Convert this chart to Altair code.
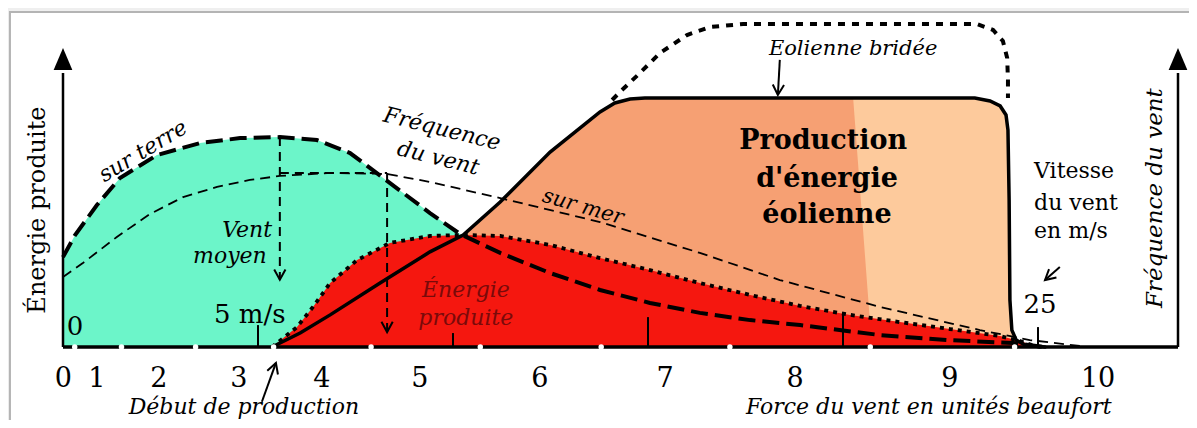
import altair as alt
import pandas as pd

# ---------------- data (x: wind speed in m/s, y: level in % of rated power) ----------------
terre_v = [0, 0.31, 0.87, 1.46, 2.41, 3.51, 4.54, 5.56, 6.51, 7.36, 8.21, 9.41, 10.18, 11.21,
           12.49, 13.77, 15.05, 16.33, 17.62, 18.90, 20.95, 22.67, 24.36, 25.18]
terre_f = [36.1, 45.0, 57.0, 67.9, 77.1, 81.9, 83.9, 84.3, 83.1, 77.9, 67.9, 53.8, 45.4, 37.8,
           29.7, 22.9, 17.7, 13.7, 10.8, 8.8, 4.8, 2.8, 1.6, 0]
mer_v = [0, 0.51, 1.38, 2.23, 3.08, 3.95, 4.79, 5.56, 6.85, 8.31, 9.41, 11.21, 13.77, 16.33,
         18.38, 20.95, 23.51, 24.79, 26.08]
mer_f = [28.1, 33.7, 44.2, 53.4, 60.2, 64.3, 67.1, 68.7, 69.9, 69.5, 66.3, 59.8, 50.2, 37.8,
         26.9, 16.1, 6.8, 2.8, 0.4]
power_v = [5.36, 6.08, 6.85, 8.13, 9.41, 10.26, 11.21, 12.49, 13.77, 14.15, 14.54, 14.92, 23.38,
           23.77, 24.03, 24.18, 24.23, 24.26, 24.28, 24.33, 24.44, 24.67, 25.18]
power_p = [0, 5.6, 12.9, 25.7, 38.2, 45.0, 58.2, 78.3, 94.4, 98.0, 99.6, 100, 100,
           98.8, 96.8, 93.2, 87.1, 59.0, 18.9, 6.8, 2.8, 0.8, 0]
bridee_v = [14.08, 14.28, 14.79, 15.31, 16.0, 16.59, 17.44, 23.44, 23.85, 24.10, 24.21, 24.23, 24.23]
bridee_p = [99.2, 102.4, 110.0, 118.1, 125.3, 128.5, 129.7, 129.7, 127.3, 122.9, 116.1, 107.2, 100]
energie_v = [5.36, 6.0, 6.41, 6.85, 7.54, 8.38, 9.41, 10.26, 11.21, 12.49, 13.77, 15.05, 16.33,
             17.62, 18.90, 20.18, 21.46, 22.74, 24.03, 24.54, 24.92, 25.1]
energie_p = [0, 8.0, 16.1, 25.7, 34.9, 41.8, 44.6, 45.0, 44.6, 41.0, 35.7, 30.9, 25.7,
             20.9, 16.5, 12.9, 10.0, 7.2, 4.4, 2.4, 0.4, 0]
split_v = [20.26, 20.74]          # edge between the two orange tones
split_p = [100, 0]

beaufort_labels = ["0", "1", "2", "3", "4", "5", "6", "7", "8", "9", "10"]
beaufort_v = [0.01, 0.87, 2.46, 4.51, 6.64, 9.15, 12.23, 15.44, 18.77, 22.74, 26.54]
beaufort_bounds = [0.3, 1.5, 3.4, 5.4, 7.9, 10.7, 13.8, 17.1, 20.7, 24.4]
ms_ticks = [5, 10, 15, 20, 25]
ms_tick_top = [8.8, 5.6, 12.0, 14.0, 8.0]

axis_v = [0, 28.59]
axis_top = 110
arrow_top = 115.7
baseline_end = 28.59

moyen_terre_v, moyen_terre_top, moyen_terre_tip = 5.56, 84.3, 27.0
moyen_mer_v0, moyen_mer_v1, moyen_mer_level, moyen_mer_tip = 5.56, 8.31, 69.9, 6.0

frame_v = [-1.36, 30.0]
frame_p = [134.5, -40.0]

x_dom = [-1.4103, 28.872]
y_dom = [-29.317, 136.145]

FONT = "DejaVu Serif"
CYAN, RED, ORANGE, PEACH = "#6cf5c9", "#f5170f", "#f6a073", "#fdca9c"

xs = alt.Scale(domain=x_dom, nice=False, zero=False)
ys = alt.Scale(domain=y_dom, nice=False, zero=False)
X = alt.X("v:Q", scale=xs, axis=None)
Y = alt.Y("p:Q", scale=ys, axis=None)


def frame(v, p, **extra):
    d = pd.DataFrame({"v": v, "p": p, **extra})
    d["i"] = range(len(d))
    d["b"] = 0.0
    return d


def area(df, color):
    return alt.Chart(df).mark_area(color=color, opacity=1, strokeWidth=0).encode(
        x=X, y=Y, y2=alt.Y2("b:Q"))


def line(df, width, dash=None, cap="butt"):
    kw = dict(color="black", strokeWidth=width, strokeCap=cap, interpolate="linear")
    if dash:
        kw["strokeDash"] = dash
    return alt.Chart(df).mark_line(**kw).encode(x=X, y=Y, order="i:Q")


def text(v, p, labels, size, style="normal", weight="normal", angle=0, color="black",
         align="center", baseline="alphabetic"):
    d = pd.DataFrame({"v": v, "p": p, "t": labels})
    return alt.Chart(d).mark_text(font=FONT, fontSize=size, fontStyle=style, fontWeight=weight,
                                  angle=angle, color=color, align=align,
                                  baseline=baseline).encode(x=X, y=Y, text="t:N")


terre = frame(terre_v, terre_f)
mer = frame(mer_v, mer_f)
power = frame(power_v, power_p)
bridee = frame(bridee_v, bridee_p)
energie = frame(energie_v, energie_p)

dark = pd.concat([power[power.v < split_v[0]], frame(split_v, split_p)], ignore_index=True)
dark["i"] = range(len(dark))
light = pd.concat([frame([split_v[0] - 0.3], [100]), power[power.v > split_v[0] - 0.3]],
                  ignore_index=True)

layers = []
# frame of the picture
fr = pd.DataFrame({"v": [frame_v[0]], "v2": [frame_v[1]], "p": [frame_p[0]], "p2": [frame_p[1]]})
layers.append(alt.Chart(fr).mark_rect(fill="white", stroke="#b4b4b4", strokeWidth=2, clip=True)
              .encode(x=X, x2="v2:Q", y=Y, y2="p2:Q"))
# filled regions
layers += [area(terre, CYAN), area(light, PEACH), area(dark, ORANGE), area(energie, RED)]
# small m/s ticks
tk = pd.DataFrame({"v": ms_ticks, "p": ms_tick_top, "b": 0.0})
layers.append(alt.Chart(tk).mark_rule(color="black", strokeWidth=2)
              .encode(x=X, y=Y, y2="b:Q"))
# curves
layers.append(line(mer, 1.8, [10, 6]))
layers.append(line(terre, 4, [17, 7]))
layers.append(line(frame([moyen_terre_v, moyen_terre_v], [moyen_terre_top, moyen_terre_tip]), 2, [9, 6]))
layers.append(line(frame([moyen_mer_v0, moyen_mer_v1], [moyen_mer_level, moyen_mer_level]), 2, [9, 6]))
layers.append(line(frame([moyen_mer_v1, moyen_mer_v1], [moyen_mer_level, moyen_mer_tip]), 2, [9, 6]))
layers.append(line(energie, 3.8, [4, 5]))
layers.append(line(bridee, 4, [7, 7]))
layers.append(line(power, 3.5, cap="round"))
# base line and the two vertical axes
bl = pd.DataFrame({"v": [0], "v2": [baseline_end], "p": [0]})
layers.append(alt.Chart(bl).mark_rule(color="black", strokeWidth=3.5).encode(x=X, x2="v2:Q", y=Y))
ax = pd.DataFrame({"v": axis_v, "p": [0, 0], "p2": [axis_top, axis_top]})
layers.append(alt.Chart(ax).mark_rule(color="black", strokeWidth=2.5).encode(x=X, y=Y, y2="p2:Q"))
ah = pd.DataFrame({"v": axis_v, "p": [arrow_top, arrow_top]})
layers.append(alt.Chart(ah).mark_point(shape="M0,-1L0.85,1L-0.85,1Z", size=484, filled=True,
                                       color="black", opacity=1).encode(x=X, y=Y))
# beaufort boundary dots
dots = pd.DataFrame({"v": beaufort_bounds, "p": [0] * len(beaufort_bounds)})
layers.append(alt.Chart(dots).mark_circle(color="white", size=30, opacity=1).encode(x=X, y=Y))

# pointer arrows (open heads)
ptr_v0 = [18.38, 25.56, 5.10]
ptr_p0 = [115.3, 32.1, -22.0]
ptr_v1 = [18.33, 25.18, 5.46]
ptr_p1 = [101.2, 26.9, -6.4]
ptr_ang = [3, 49, 199]
for a, b, c, d in zip(ptr_v0, ptr_p0, ptr_v1, ptr_p1):
    layers.append(line(frame([a, c], [b, d]), 2))
heads = pd.DataFrame({"v": ptr_v1 + [moyen_terre_v, moyen_mer_v1],
                      "p": ptr_p1 + [moyen_terre_tip, moyen_mer_tip],
                      "ang": ptr_ang + [0, 0]})
layers.append(alt.Chart(heads).mark_point(shape="M-0.55,-1L0,0L0.55,-1", size=420, filled=False,
                                          color="black", strokeWidth=2, opacity=1)
              .encode(x=X, y=Y, angle=alt.Angle("ang:Q", scale=None)))

# texts
layers.append(text(beaufort_v, [-15.9] * len(beaufort_v), beaufort_labels, 27))
layers.append(text([0.31, 4.79, 25.05], [4.8, 9.5, 13.5], ["0", "5 m/s", "25"], 26))
layers.append(text([4.72, 4.28], [44.2, 33.7], ["Vent", "moyen"], 22, style="italic"))
layers.append(text([4.64, 22.2], [-26.9, -26.9], ["Début de production",
                                                  "Force du vent en unités beaufort"], 22,
                   style="italic"))
layers.append(text([20.26], [117.3], ["Eolienne bridée"], 21, style="italic"))
layers.append(text([24.9, 24.9, 24.9], [67.7, 55.0, 43.7], ["Vitesse", "du vent", "en m/s"], 22,
                   align="left"))
layers.append(text([19.49, 19.59, 19.59], [79.4, 64.1, 49.7],
                   ["Production", "d'énergie", "éolienne"], 27, weight="bold"))
layers.append(text([10.33, 10.33], [20.1, 8.8], ["Énergie", "produite"], 22, style="italic",
                   color="#7a0a0a"))
layers.append(text([-0.46], [55.0], ["Énergie produite"], 24, angle=270))
layers.append(text([28.18], [59.8], ["Fréquence du vent"], 23, style="italic", angle=270))
layers.append(text([2.05], [78.7], ["sur terre"], 22, style="italic", angle=329, baseline="middle"))
layers.append(text([9.72, 9.62], [87.6, 75.9], ["Fréquence", "du vent"], 22, style="italic",
                   angle=14, baseline="middle"))
layers.append(text([13.33], [56.2], ["sur mer"], 21, style="italic", angle=16, baseline="middle"))

chart = alt.layer(*layers).properties(
    width=1181, height=412,
    autosize=alt.AutoSizeParams(type="none"),
    padding=0,
    background="#efefef",
).configure_view(stroke=None)

chart.save("out.html", embed_options={"renderer": "svg", "actions": False})
